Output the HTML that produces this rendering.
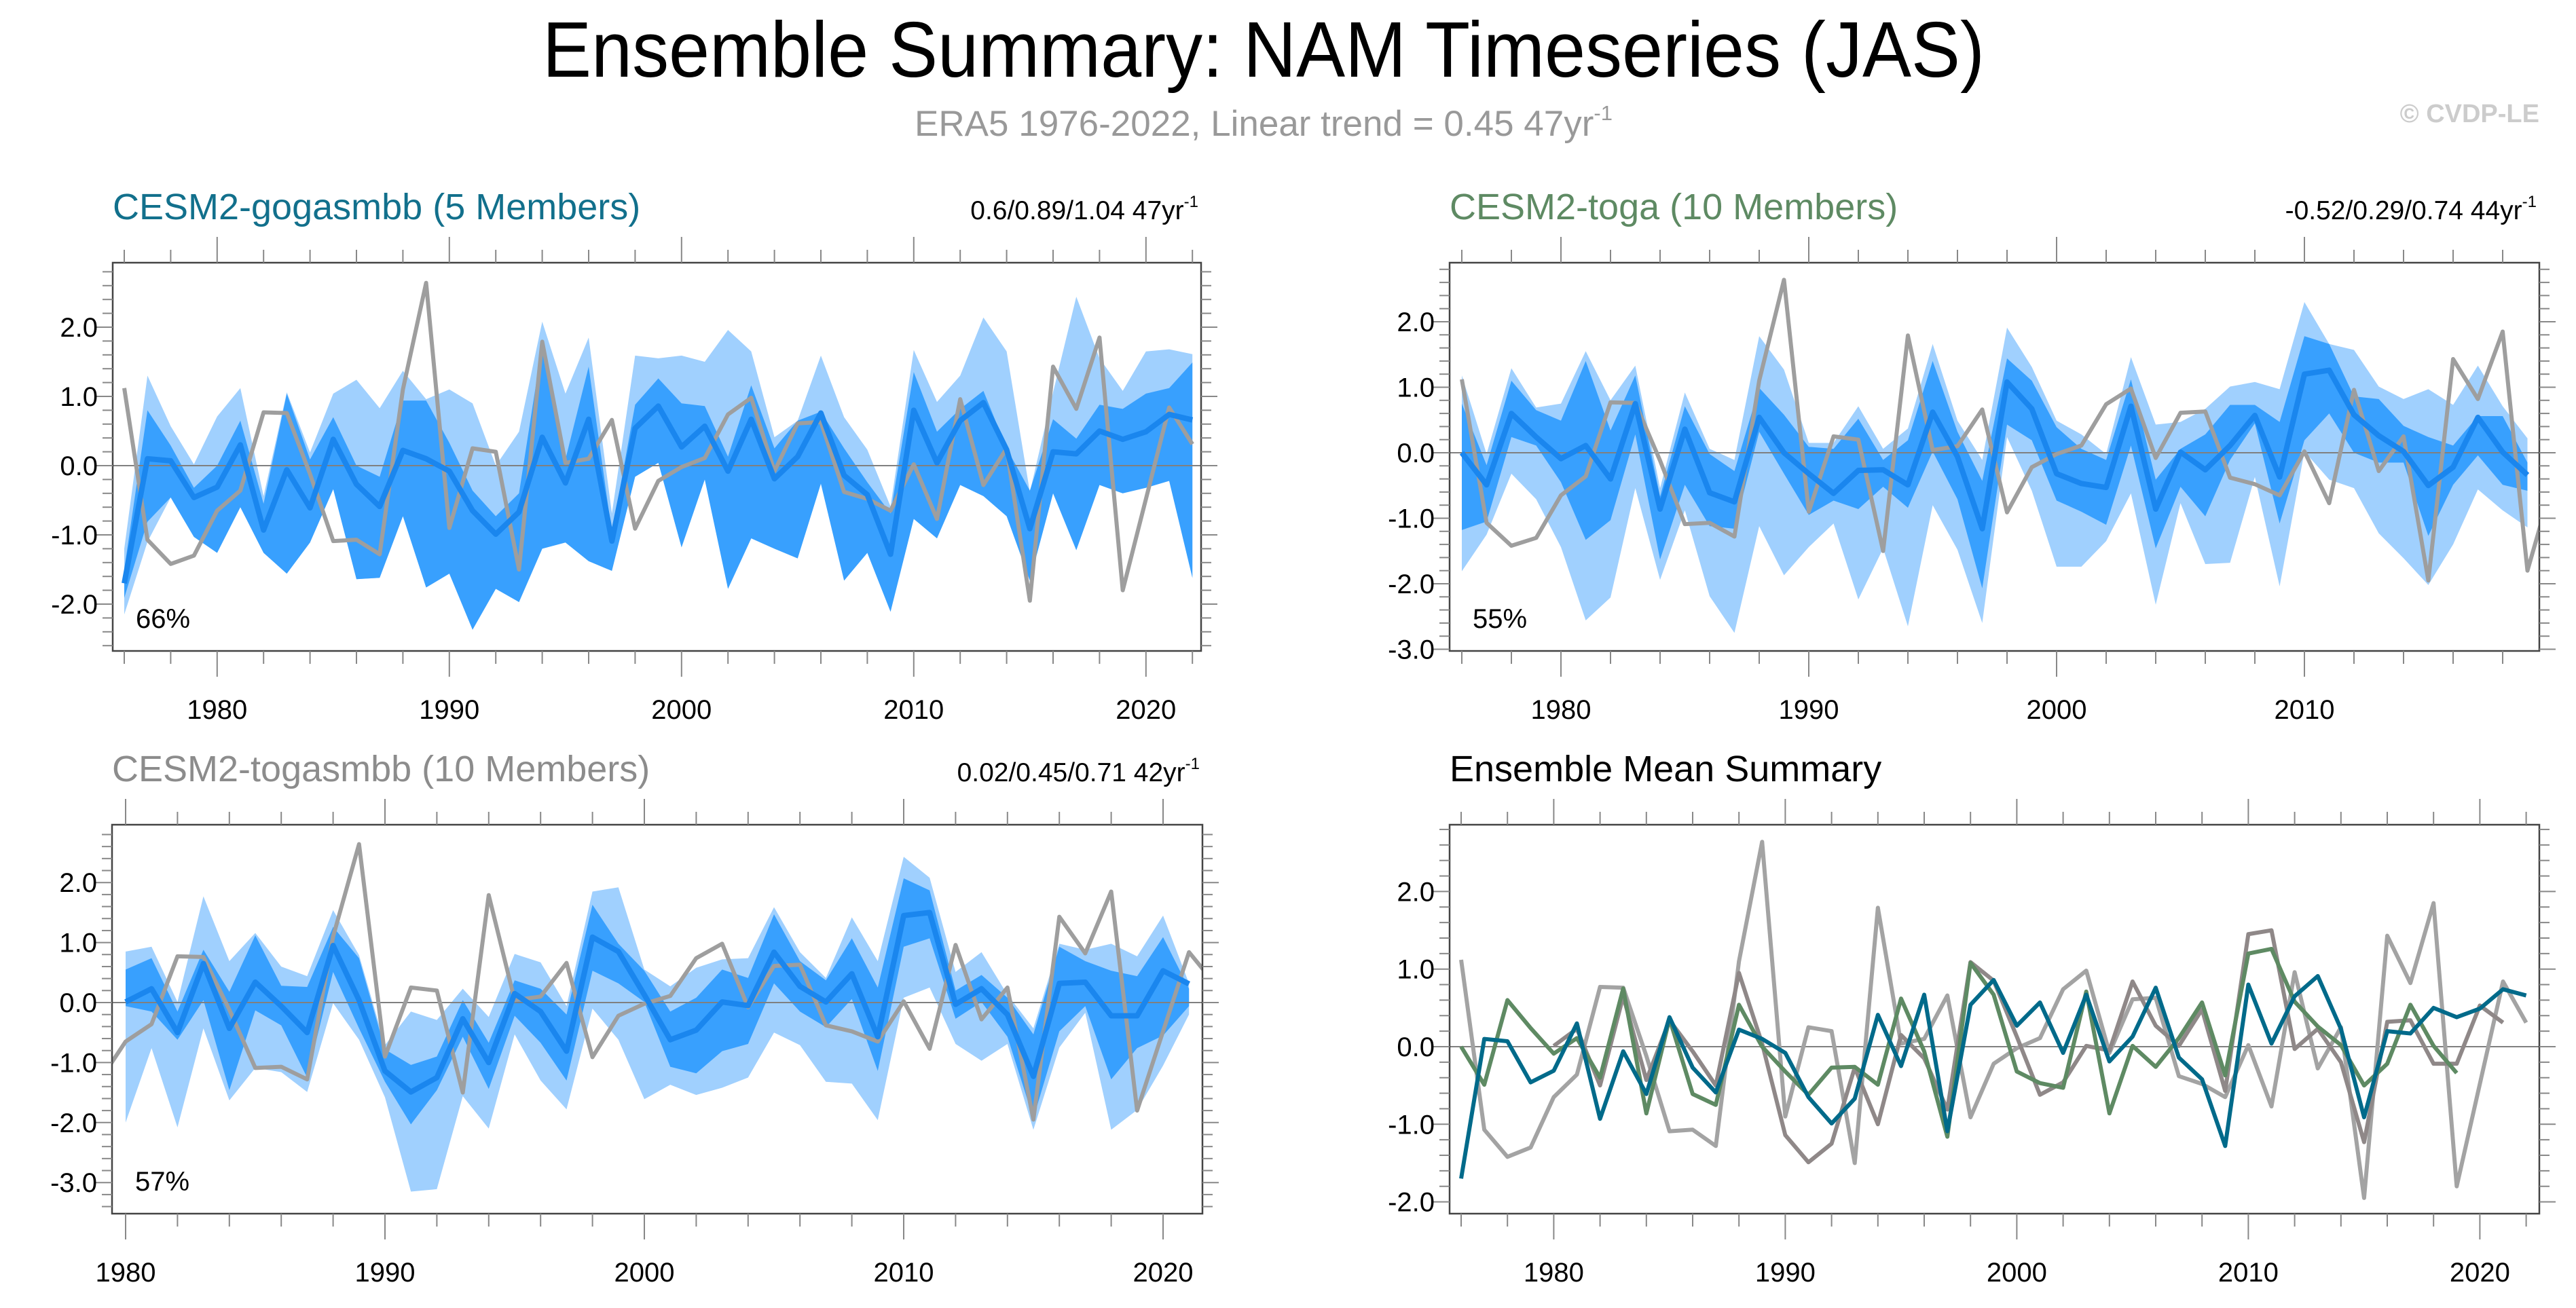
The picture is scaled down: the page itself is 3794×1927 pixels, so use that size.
<!DOCTYPE html>
<html><head><meta charset="utf-8"><title>Ensemble Summary: NAM Timeseries (JAS)</title>
<style>
html,body{margin:0;padding:0;background:#fff;}
svg{display:block;font-family:"Liberation Sans",sans-serif;}
</style></head>
<body>
<svg id="chart" xmlns="http://www.w3.org/2000/svg" width="3794" height="1927" viewBox="0 0 3794 1927">
<text x="1861" y="113" font-size="116" text-anchor="middle" fill="#000" textLength="2124" lengthAdjust="spacingAndGlyphs">Ensemble Summary: NAM Timeseries (JAS)</text>
<text x="1861" y="200" font-size="53" text-anchor="middle" fill="#999">ERA5 1976-2022, Linear trend = 0.45 47yr<tspan font-size="31" dy="-23">-1</tspan></text>
<text x="3740" y="180" font-size="38" font-weight="bold" text-anchor="end" fill="#ccc">© CVDP-LE</text>
<g id="panels"></g>
</svg>
<script>
// ERA5 observations 1976-2022
const era5Years0 = 1976;
const era5 = [1.12,-1.07,-1.42,-1.30,-0.65,-0.36,0.77,0.76,-0.12,-1.09,-1.07,-1.28,1.10,2.64,-0.90,0.25,0.20,-1.50,1.79,0.04,0.10,0.66,-0.91,-0.22,-0.02,0.11,0.74,0.98,-0.08,0.61,0.63,-0.38,-0.48,-0.65,0.02,-0.77,0.96,-0.28,0.25,-1.95,1.43,0.82,1.85,-1.80,-0.48,0.84,0.31];

// CESM2-gogasmbb 1976-2022
const gogaStart = 1976;
const gogaMean = [-1.70,0.10,0.07,-0.46,-0.31,0.30,-0.93,-0.06,-0.61,0.38,-0.27,-0.59,0.22,0.10,-0.08,-0.65,-0.99,-0.67,0.41,-0.25,0.67,-1.09,0.54,0.86,0.27,0.57,-0.08,0.67,-0.19,0.13,0.76,-0.14,-0.42,-1.28,0.80,0.04,0.65,0.91,0.23,-0.91,0.20,0.17,0.50,0.38,0.49,0.74,0.66];
const gogaOuterHi = [-1.2,1.30,0.57,0.02,0.71,1.12,-0.44,1.06,0.19,1.04,1.24,0.83,1.37,0.96,1.10,0.90,0.0,0.49,2.08,1.04,1.85,-0.69,1.59,1.55,1.59,1.50,1.96,1.65,0.41,0.65,1.59,0.70,0.23,-0.59,1.67,0.92,1.30,2.14,1.65,-0.38,1.06,2.44,1.55,1.08,1.65,1.68,1.61];
const gogaInnerHi = [-1.5,0.80,0.29,-0.32,0.0,0.65,-0.55,1.04,0.09,0.70,0.0,-0.16,0.94,0.94,0.33,-0.36,-0.73,-0.40,1.75,0.09,1.43,-0.97,0.88,1.26,0.90,0.86,0.13,1.16,0.25,0.65,0.78,0.25,-0.24,-0.69,1.35,0.49,0.82,1.08,0.25,-0.36,0.67,0.39,0.88,0.82,1.04,1.12,1.49];
const gogaInnerLo = [-1.91,-0.81,-0.46,-1.03,-1.26,-0.6,-1.26,-1.56,-1.11,-0.34,-1.64,-1.62,-0.73,-1.76,-1.56,-2.37,-1.78,-1.97,-1.20,-1.11,-1.38,-1.52,-0.16,0.04,-1.18,-0.20,-1.78,-1.05,-1.20,-1.34,-0.26,-1.66,-1.26,-2.11,-0.77,-1.05,-0.28,-0.44,-0.73,-1.66,-0.40,-1.22,-0.28,-0.40,-0.32,-0.22,-1.62];
const gogaOuterLo = [-2.15,-1.10,-0.46,-1.03,-1.26,-0.6,-1.26,-1.56,-1.11,-0.34,-1.64,-1.62,-0.73,-1.76,-1.56,-2.37,-1.78,-1.97,-1.20,-1.11,-1.38,-1.52,-0.16,0.04,-1.18,-0.20,-1.78,-1.05,-1.20,-1.34,-0.26,-1.66,-1.26,-2.11,-0.77,-1.05,-0.28,-0.44,-0.73,-1.66,-0.40,-1.22,-0.28,-0.40,-0.32,-0.22,-1.62];

// CESM2-toga 1976-2019
const togaStart = 1976;
const togaMean = [0.0,-0.49,0.60,0.24,-0.09,0.11,-0.40,0.75,-0.86,0.36,-0.61,-0.75,0.54,0.0,-0.32,-0.62,-0.27,-0.26,-0.49,0.62,-0.06,-1.16,1.08,0.67,-0.32,-0.47,-0.53,0.71,-0.86,0.01,-0.26,0.11,0.57,-0.37,1.20,1.26,0.58,0.26,0.02,-0.50,-0.22,0.54,0.01,-0.34];
const togaOuterHi = [1.18,-0.02,1.29,0.69,0.75,1.55,0.80,1.33,-0.54,0.92,0.06,-0.11,1.78,1.27,0.15,0.15,0.71,0.06,0.37,1.66,0.49,-0.11,1.91,1.31,0.49,0.28,-0.02,1.46,0.43,0.47,0.67,1.01,1.08,0.97,2.30,1.66,1.57,1.01,0.82,0.97,0.73,1.33,0.71,0.22];
const togaInnerHi = [0.75,-0.19,1.10,0.65,0.49,1.40,0.34,1.18,-0.67,0.71,-0.02,-0.28,0.99,0.58,0.09,0.06,0.52,-0.11,0.19,1.40,0.32,-0.43,1.44,1.10,0.39,0.06,-0.11,1.12,-0.41,0.06,0.28,0.73,0.73,0.47,1.78,1.66,0.86,0.82,0.41,0.24,0.11,0.56,0.56,-0.15];
const togaInnerLo = [-1.18,-1.05,0.24,0.11,-0.45,-1.33,-1.03,0.28,-1.63,-0.49,-1.12,-1.16,0.32,-0.32,-0.95,-0.73,-0.86,-0.52,-0.84,0.02,-0.71,-2.07,0.43,0.19,-0.73,-0.90,-1.10,0.11,-1.46,-0.52,-0.97,-0.11,0.45,-1.08,0.19,0.60,0.0,-0.15,-0.15,-1.27,-0.49,-0.04,-0.49,-0.58];
const togaOuterLo = [-1.81,-1.25,-0.32,-0.71,-1.44,-2.56,-2.21,-0.54,-1.94,-0.88,-2.19,-2.75,-1.12,-1.87,-1.44,-1.08,-2.24,-1.46,-2.65,-0.80,-1.48,-2.60,0.24,-0.58,-1.74,-1.74,-1.35,-0.62,-2.32,-0.77,-1.70,-1.68,-0.37,-2.04,0.02,-0.41,-0.54,-1.23,-1.61,-2.02,-1.40,-0.56,-0.88,-1.14];

// CESM2-togasmbb 1980-2021
const tsmStart = 1980;
const tsmMean = [0.01,0.23,-0.50,0.65,-0.43,0.34,-0.06,-0.50,0.95,0.04,-1.14,-1.49,-1.25,-0.27,-1.00,0.15,-0.15,-0.81,1.09,0.85,0.13,-0.62,-0.46,0.01,-0.05,0.84,0.27,0.01,0.48,-0.57,1.45,1.50,-0.03,0.23,-0.20,-1.23,0.32,0.34,-0.22,-0.22,0.53,0.31];
const tsmOuterHi = [0.85,0.93,0.01,1.77,0.69,1.16,0.60,0.44,1.54,0.79,-0.71,-0.15,-0.29,0.23,-0.24,0.81,0.67,-0.06,1.85,1.92,0.55,0.27,0.58,0.72,0.74,1.59,0.84,0.41,1.42,0.69,2.43,2.08,0.51,0.84,0.13,-0.43,0.98,0.88,0.98,0.77,1.45,0.32];
const tsmInnerHi = [0.55,0.74,-0.15,0.88,0.18,1.12,0.28,0.26,1.26,0.74,-0.78,-1.04,-0.90,0.04,-0.67,0.37,0.23,-0.20,1.63,0.98,0.53,-0.15,0.08,0.55,0.41,1.47,0.69,0.37,1.07,0.25,2.07,1.87,0.20,0.46,0.08,-0.53,0.93,0.69,0.53,0.44,1.09,0.23];
const tsmInnerLo = [-0.06,-0.15,-0.62,0.04,-1.46,-0.13,-0.38,-1.25,0.51,-0.43,-1.32,-2.03,-1.46,-0.57,-1.44,-0.22,-0.67,-1.30,0.53,0.32,0.01,-1.07,-1.18,-0.81,-0.69,0.32,-0.15,-0.41,0.06,-1.14,0.93,1.07,-0.27,0.01,-0.57,-1.93,-0.48,-0.06,-1.28,-0.76,-0.55,-0.06];
const tsmOuterLo = [-2.00,-0.76,-2.08,-0.43,-1.63,-1.09,-1.16,-1.49,-0.01,-0.62,-1.58,-3.15,-3.11,-1.56,-2.10,-0.53,-1.30,-1.78,-0.10,-0.62,-1.61,-1.37,-1.54,-1.42,-1.25,-0.50,-0.71,-1.32,-1.35,-1.96,0.08,0.25,-0.69,-0.97,-0.69,-2.12,-0.75,-0.17,-2.12,-1.79,-1.05,-0.20];

const yLabels4 = ["2.0","1.0","0.0","-1.0","-2.0"];
const yLabels5 = ["2.0","1.0","0.0","-1.0","-2.0","-3.0"];
const xLabels = ["1980","1990","2000","2010","2020"];

const NS = "http://www.w3.org/2000/svg";
const root = document.getElementById('panels');
function mk(tag, attrs, parent){
  const e = document.createElementNS(NS, tag);
  for (const k in attrs) e.setAttribute(k, attrs[k]);
  (parent||root).appendChild(e);
  return e;
}

function drawPanel(p){
  const g = mk('g', {});
  
  
  const xS = yr => p.x0 + (yr - p.yr0) * p.pxYr;
  const yS = v => p.zeroY - v * p.pxUnit;
  const cid = 'clip-' + p.name;
  const cp = mk('clipPath', {id: cid}, g);
  mk('rect', {x:p.L, y:p.T, width:p.R-p.L, height:p.B-p.T}, cp);
  const plot = mk('g', {'clip-path':'url(#'+cid+')'}, g);
  
  
  function band(hi, lo, start, color, nm){
    let pts = [];
    for (let i=0;i<hi.length;i++) pts.push(xS(start+i)+','+yS(hi[i]));
    for (let i=lo.length-1;i>=0;i--) pts.push(xS(start+i)+','+yS(lo[i]));
    const e = mk('polygon', {points: pts.join(' '), fill: color}, plot);
    
    
  }
  function line(vals, start, color, w, nm){
    const pts = vals.map((v,i)=> xS(start+i)+','+yS(v)).join(' ');
    const e = mk('polyline', {points: pts, fill:'none', stroke: color, 'stroke-width': w, 'stroke-linejoin':'round'}, plot);
    
    
  }
  if (p.bands){
    band(p.bands.oh, p.bands.ol, p.bands.start, '#a0d0fe', 'outer-spread-band');
    band(p.bands.ih, p.bands.il, p.bands.start, '#38a0fe', 'inner-spread-band');
  }
  const zl = mk('line', {x1:p.L, x2:p.R, y1:yS(0), y2:yS(0), stroke:'#808080', 'stroke-width':2}, plot);
  
  
  p.lines.forEach(l => line(l.vals, l.start, l.color, l.w, l.name));
  const bx = mk('rect', {x:p.L, y:p.T, width:p.R-p.L, height:p.B-p.T, fill:'none', stroke:'#444', 'stroke-width':2.5}, g);
  
  
  const vTop = (p.zeroY - p.T)/p.pxUnit, vBot = (p.zeroY - p.B)/p.pxUnit;
  for (let k = Math.ceil(vBot*5); k <= Math.floor(vTop*5); k++){
    const y = yS(k/5), major = (k % 5 === 0), len = major ? 24 : 15;
    mk('line', {x1:p.L-len, x2:p.L, y1:y, y2:y, stroke:'#888', 'stroke-width':2}, g);
    mk('line', {x1:p.R, x2:p.R+len, y1:y, y2:y, stroke:'#888', 'stroke-width':2}, g);
  }
  p.yLabels.forEach(lb => {
    const t = mk('text', {x:p.L-22, y:yS(parseFloat(lb))+14, 'font-size':40, 'text-anchor':'end', fill:'#000'}, g);
    t.textContent = lb;
    
    
  });
  for (let yr = 1974; yr <= 2024; yr += 2){
    const x = xS(yr);
    if (x < p.L - 1 || x > p.R + 1) continue;
    const major = yr % 10 === 0, len = major ? 38 : 19;
    mk('line', {x1:x, x2:x, y1:p.B, y2:p.B+len, stroke:'#888', 'stroke-width':2}, g);
    mk('line', {x1:x, x2:x, y1:p.T-len, y2:p.T, stroke:'#888', 'stroke-width':2}, g);
  }
  xLabels.forEach(lb => {
    const x = xS(parseInt(lb));
    if (x < p.L - 1 || x > p.R + 1) return;
    const t = mk('text', {x:x, y:p.B+100, 'font-size':40, 'text-anchor':'middle', fill:'#000'}, g);
    t.textContent = lb;
    
    
  });
  const tt = mk('text', {x:p.L, y:p.T-64, 'font-size':54, fill:p.titleColor}, g);
  tt.textContent = p.title;
  
  
  if (p.stat){
    const st = mk('text', {x:p.R-4, y:p.T-64, 'font-size':39, 'text-anchor':'end', fill:'#000'}, g);
    st.textContent = p.stat;
    const sup = mk('tspan', {'font-size':24, dy:-18}, st);
    sup.textContent = '-1';
    
    
  }
  if (p.pct){
    const pt = mk('text', {x:p.L+34, y:p.B-34, 'font-size':40, fill:'#000'}, g);
    pt.textContent = p.pct;
    
    
  }
}

drawPanel({name:'panel-gogasmbb', L:166, R:1769, T:387, B:959, x0:183, yr0:1976, pxYr:34.2, zeroY:686, pxUnit:102,
  yLabels:yLabels4, title:'CESM2-gogasmbb (5 Members)', titleColor:'#12708c', stat:'0.6/0.89/1.04 47yr', pct:'66%',
  bands:{oh:gogaOuterHi, ol:gogaOuterLo, ih:gogaInnerHi, il:gogaInnerLo, start:gogaStart},
  lines:[{vals:era5,start:era5Years0,color:'#9e9e9e',w:6,name:'era5-line'},{vals:gogaMean,start:gogaStart,color:'#1a86ee',w:8,name:'ensemble-mean-line'}]});
drawPanel({name:'panel-toga', L:2135, R:3740, T:387, B:959, x0:2153, yr0:1976, pxYr:36.5, zeroY:667, pxUnit:96.5,
  yLabels:yLabels5, title:'CESM2-toga (10 Members)', titleColor:'#5e8a63', stat:'-0.52/0.29/0.74 44yr', pct:'55%',
  bands:{oh:togaOuterHi, ol:togaOuterLo, ih:togaInnerHi, il:togaInnerLo, start:togaStart},
  lines:[{vals:era5,start:era5Years0,color:'#9e9e9e',w:6,name:'era5-line'},{vals:togaMean,start:togaStart,color:'#1a86ee',w:8,name:'ensemble-mean-line'}]});
drawPanel({name:'panel-togasmbb', L:165, R:1771, T:1215, B:1788, x0:185, yr0:1980, pxYr:38.2, zeroY:1477, pxUnit:88.4,
  yLabels:yLabels5, title:'CESM2-togasmbb (10 Members)', titleColor:'#8c8c8c', stat:'0.02/0.45/0.71 42yr', pct:'57%',
  bands:{oh:tsmOuterHi, ol:tsmOuterLo, ih:tsmInnerHi, il:tsmInnerLo, start:tsmStart},
  lines:[{vals:era5,start:era5Years0,color:'#9e9e9e',w:6,name:'era5-line'},{vals:tsmMean,start:tsmStart,color:'#1a86ee',w:8,name:'ensemble-mean-line'}]});
drawPanel({name:'panel-ensemble-mean-summary', L:2135, R:3740, T:1215, B:1788, x0:2152, yr0:1976, pxYr:34.1, zeroY:1542, pxUnit:114.3,
  yLabels:yLabels4, title:'Ensemble Mean Summary', titleColor:'#000',
  lines:[{vals:era5,start:era5Years0,color:'#a3a3a3',w:6,name:'era5-line'},
         {vals:tsmMean,start:tsmStart,color:'#8f8888',w:6,name:'togasmbb-mean-line'},
         {vals:togaMean,start:togaStart,color:'#5e8a63',w:6,name:'toga-mean-line'},
         {vals:gogaMean,start:gogaStart,color:'#006a8a',w:6,name:'gogasmbb-mean-line'}]});
</script>
</body></html>
